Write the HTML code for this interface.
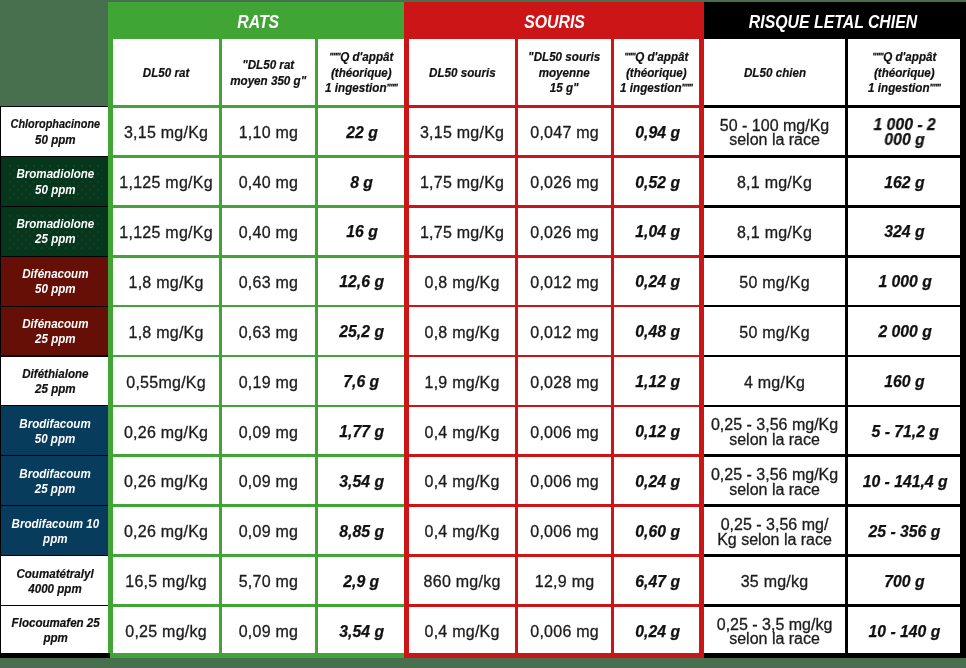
<!DOCTYPE html>
<html><head><meta charset="utf-8"><title>DL50</title>
<style>
html,body{margin:0;padding:0}
body{width:966px;height:668px;overflow:hidden;background:#48704e;position:relative;font-family:"Liberation Sans",sans-serif;}
#w{position:absolute;left:0;top:0;width:966px;height:668px;will-change:transform}
.s{position:absolute;top:2px;height:656px}
.t{position:absolute;top:2px;height:37px;display:flex;align-items:center;justify-content:center;color:#fff;font-weight:bold;font-style:italic;font-size:17.5px;white-space:nowrap;box-sizing:border-box;padding-top:4px;padding-left:1px}
.t span{display:inline-block;transform:scaleX(.905)}
.c{position:absolute;background:#fff;display:flex;align-items:center;justify-content:center;text-align:center;color:#222;box-sizing:border-box;white-space:nowrap}
.c span,.l span{display:inline-block}
.n{font-size:16px;line-height:14.5px;letter-spacing:.25px;padding-top:4px;color:#1c1c1c;-webkit-text-stroke:.3px #1c1c1c}
.m{letter-spacing:0}
.n.z{padding-top:5.1px}
.b.z{padding-top:2.6px}
.l.z{padding-top:3.4px}
.b{font-size:16px;font-weight:bold;font-style:italic;color:#111;line-height:15px;padding-top:1.5px;padding-left:1.5px;-webkit-text-stroke:.25px #111}
.b span{transform:scaleX(.985)}
.h{font-size:12px;font-weight:bold;font-style:italic;color:#111;line-height:15.4px;padding-top:3px;-webkit-text-stroke:.2px #111}
.h span{transform:scaleX(.97)}
.q{font-size:9px;line-height:0;vertical-align:2.4px;letter-spacing:-.5px;-webkit-text-stroke:.3px #111}
.l{position:absolute;left:1px;width:107px;box-sizing:border-box;padding-top:2.4px;padding-left:2px;display:flex;align-items:center;justify-content:center;text-align:center;font-size:12px;line-height:15.2px;font-weight:bold;font-style:italic;white-space:nowrap}
.l span{transform:scaleX(.965)}
.lw{background:#fff;color:#111;-webkit-text-stroke:.2px #111}
.lg{background-color:#06361b;color:#fff;background-image:radial-gradient(circle,rgba(255,255,255,.11) .5px,transparent .9px),radial-gradient(circle,rgba(255,255,255,.11) .5px,transparent .9px);background-size:8px 8px;background-position:1px 1px,5px 5px;box-shadow:inset 0 0 0 6px #06361b}
.lr{background:#650f06;color:#fff}
.lb{background:#083c5d;color:#fff}
</style></head><body><div id="w">

<div style="position:absolute;left:0;top:106px;width:108px;height:552px;background:#000"></div>
<div style="position:absolute;left:0;top:653px;width:110px;height:5px;background:#000;z-index:5"></div>
<div class="s" style="left:108px;width:300px;background:#40a535"></div>
<div class="s" style="left:704px;width:262px;background:#000"></div>
<div class="s" style="left:404px;width:300px;background:#cc1517"></div>
<div class="t" style="left:108px;width:300px"><span>RATS</span></div>
<div class="t" style="left:404px;width:300px"><span>SOURIS</span></div>
<div class="t" style="left:700px;width:266px"><span>RISQUE LETAL CHIEN</span></div>
<div class="c h" style="left:113px;top:39px;width:106.2px;height:66.2px"><span>DL50 rat</span></div>
<div class="c h" style="left:221.8px;top:39px;width:93.4px;height:66.2px"><span>"DL50 rat<br>moyen 350 g"</span></div>
<div class="c h" style="left:317.8px;top:39px;width:86.2px;height:66.2px"><span><i class="q">"""</i>Q d'appât<br>(théorique)<br>1 ingestion<i class="q">"""</i></span></div>
<div class="c h" style="left:409px;top:39px;width:106.2px;height:66.2px"><span>DL50 souris</span></div>
<div class="c h" style="left:517.8px;top:39px;width:93.6px;height:66.2px"><span>"DL50 souris<br>moyenne<br>15 g"</span></div>
<div class="c h" style="left:614px;top:39px;width:85px;height:66.2px"><span><i class="q">"""</i>Q d'appât<br>(théorique)<br>1 ingestion<i class="q">"""</i></span></div>
<div class="c h" style="left:704px;top:39px;width:141.1px;height:66.2px"><span>DL50 chien</span></div>
<div class="c h" style="left:847.7px;top:39px;width:112.8px;height:66.2px"><span><i class="q">"""</i>Q d'appât<br>(théorique)<br>1 ingestion<i class="q">"""</i></span></div>
<div class="l lw" style="top:107px;height:48.9px"><span><span style="transform:scaleX(.94)">Chlorophacinone</span><br>50 ppm</span></div>
<div class="c n" style="left:113px;top:107.8px;width:106.2px;height:47.3px"><span>3,15 mg/Kg</span></div>
<div class="c n" style="left:221.8px;top:107.8px;width:93.4px;height:47.3px"><span>1,10 mg</span></div>
<div class="c b" style="left:317.8px;top:107.8px;width:86.2px;height:47.3px"><span>22 g</span></div>
<div class="c n" style="left:409px;top:107.8px;width:106.2px;height:47.3px"><span>3,15 mg/Kg</span></div>
<div class="c n" style="left:517.8px;top:107.8px;width:93.6px;height:47.3px"><span>0,047 mg</span></div>
<div class="c b" style="left:614px;top:107.8px;width:85px;height:47.3px"><span>0,94 g</span></div>
<div class="c n m" style="left:704px;top:107.8px;width:141.1px;height:47.3px"><span>50 - 100 mg/Kg<br>selon la race</span></div>
<div class="c b" style="left:847.7px;top:107.8px;width:112.8px;height:47.3px"><span>1 000 - 2<br>000 g</span></div>
<div class="l lg" style="top:156.9px;height:48.9px"><span>Bromadiolone<br>50 ppm</span></div>
<div class="c n" style="left:113px;top:157.7px;width:106.2px;height:47.3px"><span>1,125 mg/Kg</span></div>
<div class="c n" style="left:221.8px;top:157.7px;width:93.4px;height:47.3px"><span>0,40 mg</span></div>
<div class="c b" style="left:317.8px;top:157.7px;width:86.2px;height:47.3px"><span>8 g</span></div>
<div class="c n" style="left:409px;top:157.7px;width:106.2px;height:47.3px"><span>1,75 mg/Kg</span></div>
<div class="c n" style="left:517.8px;top:157.7px;width:93.6px;height:47.3px"><span>0,026 mg</span></div>
<div class="c b" style="left:614px;top:157.7px;width:85px;height:47.3px"><span>0,52 g</span></div>
<div class="c n" style="left:704px;top:157.7px;width:141.1px;height:47.3px"><span>8,1 mg/Kg</span></div>
<div class="c b" style="left:847.7px;top:157.7px;width:112.8px;height:47.3px"><span>162 g</span></div>
<div class="l lg" style="top:206.8px;height:48.9px"><span>Bromadiolone<br>25 ppm</span></div>
<div class="c n" style="left:113px;top:207.6px;width:106.2px;height:47.3px"><span>1,125 mg/Kg</span></div>
<div class="c n" style="left:221.8px;top:207.6px;width:93.4px;height:47.3px"><span>0,40 mg</span></div>
<div class="c b" style="left:317.8px;top:207.6px;width:86.2px;height:47.3px"><span>16 g</span></div>
<div class="c n" style="left:409px;top:207.6px;width:106.2px;height:47.3px"><span>1,75 mg/Kg</span></div>
<div class="c n" style="left:517.8px;top:207.6px;width:93.6px;height:47.3px"><span>0,026 mg</span></div>
<div class="c b" style="left:614px;top:207.6px;width:85px;height:47.3px"><span>1,04 g</span></div>
<div class="c n" style="left:704px;top:207.6px;width:141.1px;height:47.3px"><span>8,1 mg/Kg</span></div>
<div class="c b" style="left:847.7px;top:207.6px;width:112.8px;height:47.3px"><span>324 g</span></div>
<div class="l lr" style="top:256.7px;height:48.9px"><span>Difénacoum<br>50 ppm</span></div>
<div class="c n" style="left:113px;top:257.5px;width:106.2px;height:47.3px"><span>1,8 mg/Kg</span></div>
<div class="c n" style="left:221.8px;top:257.5px;width:93.4px;height:47.3px"><span>0,63 mg</span></div>
<div class="c b" style="left:317.8px;top:257.5px;width:86.2px;height:47.3px"><span>12,6 g</span></div>
<div class="c n" style="left:409px;top:257.5px;width:106.2px;height:47.3px"><span>0,8 mg/Kg</span></div>
<div class="c n" style="left:517.8px;top:257.5px;width:93.6px;height:47.3px"><span>0,012 mg</span></div>
<div class="c b" style="left:614px;top:257.5px;width:85px;height:47.3px"><span>0,24 g</span></div>
<div class="c n" style="left:704px;top:257.5px;width:141.1px;height:47.3px"><span>50 mg/Kg</span></div>
<div class="c b" style="left:847.7px;top:257.5px;width:112.8px;height:47.3px"><span>1 000 g</span></div>
<div class="l lr" style="top:306.6px;height:48.9px"><span>Difénacoum<br>25 ppm</span></div>
<div class="c n" style="left:113px;top:307.4px;width:106.2px;height:47.3px"><span>1,8 mg/Kg</span></div>
<div class="c n" style="left:221.8px;top:307.4px;width:93.4px;height:47.3px"><span>0,63 mg</span></div>
<div class="c b" style="left:317.8px;top:307.4px;width:86.2px;height:47.3px"><span>25,2 g</span></div>
<div class="c n" style="left:409px;top:307.4px;width:106.2px;height:47.3px"><span>0,8 mg/Kg</span></div>
<div class="c n" style="left:517.8px;top:307.4px;width:93.6px;height:47.3px"><span>0,012 mg</span></div>
<div class="c b" style="left:614px;top:307.4px;width:85px;height:47.3px"><span>0,48 g</span></div>
<div class="c n" style="left:704px;top:307.4px;width:141.1px;height:47.3px"><span>50 mg/Kg</span></div>
<div class="c b" style="left:847.7px;top:307.4px;width:112.8px;height:47.3px"><span>2 000 g</span></div>
<div class="l lw" style="top:356.5px;height:48.9px"><span>Diféthialone<br>25 ppm</span></div>
<div class="c n" style="left:113px;top:357.3px;width:106.2px;height:47.3px"><span>0,55mg/Kg</span></div>
<div class="c n" style="left:221.8px;top:357.3px;width:93.4px;height:47.3px"><span>0,19 mg</span></div>
<div class="c b" style="left:317.8px;top:357.3px;width:86.2px;height:47.3px"><span>7,6 g</span></div>
<div class="c n" style="left:409px;top:357.3px;width:106.2px;height:47.3px"><span>1,9 mg/Kg</span></div>
<div class="c n" style="left:517.8px;top:357.3px;width:93.6px;height:47.3px"><span>0,028 mg</span></div>
<div class="c b" style="left:614px;top:357.3px;width:85px;height:47.3px"><span>1,12 g</span></div>
<div class="c n" style="left:704px;top:357.3px;width:141.1px;height:47.3px"><span>4 mg/Kg</span></div>
<div class="c b" style="left:847.7px;top:357.3px;width:112.8px;height:47.3px"><span>160 g</span></div>
<div class="l lb" style="top:406.4px;height:48.9px"><span>Brodifacoum<br>50 ppm</span></div>
<div class="c n" style="left:113px;top:407.2px;width:106.2px;height:47.3px"><span>0,26 mg/Kg</span></div>
<div class="c n" style="left:221.8px;top:407.2px;width:93.4px;height:47.3px"><span>0,09 mg</span></div>
<div class="c b" style="left:317.8px;top:407.2px;width:86.2px;height:47.3px"><span>1,77 g</span></div>
<div class="c n" style="left:409px;top:407.2px;width:106.2px;height:47.3px"><span>0,4 mg/Kg</span></div>
<div class="c n" style="left:517.8px;top:407.2px;width:93.6px;height:47.3px"><span>0,006 mg</span></div>
<div class="c b" style="left:614px;top:407.2px;width:85px;height:47.3px"><span>0,12 g</span></div>
<div class="c n m" style="left:704px;top:407.2px;width:141.1px;height:47.3px"><span>0,25 - 3,56 mg/Kg<br>selon la race</span></div>
<div class="c b" style="left:847.7px;top:407.2px;width:112.8px;height:47.3px"><span>5 - 71,2 g</span></div>
<div class="l lb" style="top:456.3px;height:48.9px"><span>Brodifacoum<br>25 ppm</span></div>
<div class="c n" style="left:113px;top:457.1px;width:106.2px;height:47.3px"><span>0,26 mg/Kg</span></div>
<div class="c n" style="left:221.8px;top:457.1px;width:93.4px;height:47.3px"><span>0,09 mg</span></div>
<div class="c b" style="left:317.8px;top:457.1px;width:86.2px;height:47.3px"><span>3,54 g</span></div>
<div class="c n" style="left:409px;top:457.1px;width:106.2px;height:47.3px"><span>0,4 mg/Kg</span></div>
<div class="c n" style="left:517.8px;top:457.1px;width:93.6px;height:47.3px"><span>0,006 mg</span></div>
<div class="c b" style="left:614px;top:457.1px;width:85px;height:47.3px"><span>0,24 g</span></div>
<div class="c n m" style="left:704px;top:457.1px;width:141.1px;height:47.3px"><span>0,25 - 3,56 mg/Kg<br>selon la race</span></div>
<div class="c b" style="left:847.7px;top:457.1px;width:112.8px;height:47.3px"><span>10 - 141,4 g</span></div>
<div class="l lb" style="top:506.2px;height:48.9px"><span>Brodifacoum 10<br>ppm</span></div>
<div class="c n" style="left:113px;top:507px;width:106.2px;height:47.3px"><span>0,26 mg/Kg</span></div>
<div class="c n" style="left:221.8px;top:507px;width:93.4px;height:47.3px"><span>0,09 mg</span></div>
<div class="c b" style="left:317.8px;top:507px;width:86.2px;height:47.3px"><span>8,85 g</span></div>
<div class="c n" style="left:409px;top:507px;width:106.2px;height:47.3px"><span>0,4 mg/Kg</span></div>
<div class="c n" style="left:517.8px;top:507px;width:93.6px;height:47.3px"><span>0,006 mg</span></div>
<div class="c b" style="left:614px;top:507px;width:85px;height:47.3px"><span>0,60 g</span></div>
<div class="c n m" style="left:704px;top:507px;width:141.1px;height:47.3px"><span>0,25 - 3,56 mg/<br>Kg selon la race</span></div>
<div class="c b" style="left:847.7px;top:507px;width:112.8px;height:47.3px"><span>25 - 356 g</span></div>
<div class="l lw" style="top:556.1px;height:48.9px"><span>Coumatétralyl<br>4000 ppm</span></div>
<div class="c n" style="left:113px;top:556.9px;width:106.2px;height:47.3px"><span>16,5 mg/kg</span></div>
<div class="c n" style="left:221.8px;top:556.9px;width:93.4px;height:47.3px"><span>5,70 mg</span></div>
<div class="c b" style="left:317.8px;top:556.9px;width:86.2px;height:47.3px"><span>2,9 g</span></div>
<div class="c n" style="left:409px;top:556.9px;width:106.2px;height:47.3px"><span>860 mg/kg</span></div>
<div class="c n" style="left:517.8px;top:556.9px;width:93.6px;height:47.3px"><span>12,9 mg</span></div>
<div class="c b" style="left:614px;top:556.9px;width:85px;height:47.3px"><span>6,47 g</span></div>
<div class="c n" style="left:704px;top:556.9px;width:141.1px;height:47.3px"><span>35 mg/kg</span></div>
<div class="c b" style="left:847.7px;top:556.9px;width:112.8px;height:47.3px"><span>700 g</span></div>
<div class="l lw z" style="top:606px;height:46.9px"><span>Flocoumafen 25<br>ppm</span></div>
<div class="c n z" style="left:113px;top:606.8px;width:106.2px;height:46.2px"><span>0,25 mg/kg</span></div>
<div class="c n z" style="left:221.8px;top:606.8px;width:93.4px;height:46.2px"><span>0,09 mg</span></div>
<div class="c b z" style="left:317.8px;top:606.8px;width:86.2px;height:46.2px"><span>3,54 g</span></div>
<div class="c n z" style="left:409px;top:606.8px;width:106.2px;height:46.2px"><span>0,4 mg/Kg</span></div>
<div class="c n z" style="left:517.8px;top:606.8px;width:93.6px;height:46.2px"><span>0,006 mg</span></div>
<div class="c b z" style="left:614px;top:606.8px;width:85px;height:46.2px"><span>0,24 g</span></div>
<div class="c n m z" style="left:704px;top:606.8px;width:141.1px;height:46.2px"><span>0,25 - 3,5 mg/kg<br>selon la race</span></div>
<div class="c b z" style="left:847.7px;top:606.8px;width:112.8px;height:46.2px"><span>10 - 140 g</span></div>
</div></body></html>
